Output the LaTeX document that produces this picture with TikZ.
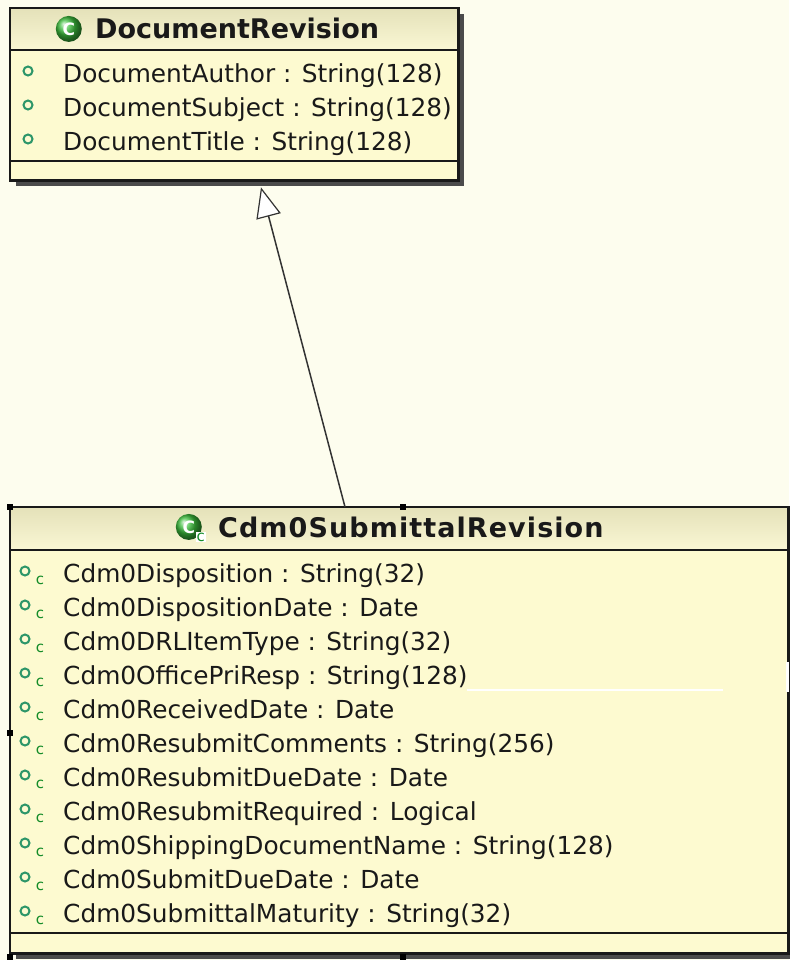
\documentclass[tikz,border=0pt]{standalone}
\usepackage{fontspec}
\setmainfont{DejaVu Sans}
\usepackage{tikz}
\usetikzlibrary{arrows.meta, positioning, calc, shadows}

\definecolor{paper}{RGB}{253,253,238}
\definecolor{classfill}{RGB}{253,250,208}
\definecolor{headtop}{RGB}{228,225,185}
\definecolor{headbot}{RGB}{250,247,212}
\definecolor{edgeblack}{RGB}{25,25,25}
\definecolor{shadowgray}{RGB}{75,75,75}
\definecolor{ink}{RGB}{25,25,25}
\definecolor{ringgreen}{RGB}{45,150,105}
\definecolor{markgreen}{RGB}{20,140,40}
\definecolor{iconball}{RGB}{60,190,60}

\tikzset{
  classbox/.style={fill=classfill, anchor=north west, inner sep=0pt,
    drop shadow={shadow xshift=6pt, shadow yshift=-6pt, fill=shadowgray, opacity=1}},
  classline/.style={draw=edgeblack, line width=2.5pt},
  sepline/.style={draw=edgeblack, line width=1.5pt},
  classname/.style={font=\fontsize{27}{30}\selectfont\bfseries, text=ink, inner sep=0pt, anchor=base west},
  attr/.style={font=\fontsize{24.8}{28}\selectfont, text=ink, anchor=base west, inner sep=0pt,
    text height=19pt, text depth=5pt},
  attrdot/.style={circle, draw=ringgreen, line width=2pt, minimum size=9pt, inner sep=0pt},
  cmark/.style={font=\fontsize{15}{15}\selectfont, text=markgreen, inner sep=0.6pt},
  clsicon/.style={circle, minimum size=26pt, inner sep=0pt, ball color=iconball, text=white,
    font=\fontsize{17}{17}\selectfont\bfseries},
  handle/.style={fill=black, minimum size=6pt, inner sep=0pt},
  genline/.style={draw=black!80, line width=1.5pt, -{Triangle[length=30pt, width=25pt, fill=white, line width=1.2pt]}},
}

\begin{document}
\begin{tikzpicture}[x=1pt, y=-1pt]
  \useasboundingbox[fill=paper] (0,0) rectangle (789,960);

  % superclass
  \node[classbox, minimum width=448pt, minimum height=172pt] (docrev) at (10,8) {};
  \shade[top color=headtop, bottom color=headbot] (docrev.north west) rectangle ($(docrev.north east)+(0,42)$);
  \draw[sepline] ($(docrev.north west)+(0,42)$) -- ($(docrev.north east)+(0,42)$);
  \draw[sepline] ($(docrev.north west)+(0,153)$) -- ($(docrev.north east)+(0,153)$);
  \draw[classline] (docrev.north west) rectangle (docrev.south east);

  \node[classname] (docrevname) at (95,39) {DocumentRevision};
  \node[clsicon, left=13pt of docrevname] (docrevicon) {C};

  \foreach \txt [count=\i from 0] in {DocumentAuthor : String(128), DocumentSubject : String(128), DocumentTitle : String(128)}{
    \node[attr] (docattr\i) at (63,83+34*\i) {\txt};
    \node[attrdot] (docdot\i) at ($(docattr\i.west)+(-35,-5)$) {};
  }

  % subclass
  \node[classbox, minimum width=778pt, minimum height=446pt] (subrev) at (10,507) {};
  \shade[top color=headtop, bottom color=headbot] (subrev.north west) rectangle ($(subrev.north east)+(0,43)$);
  \draw[sepline] ($(subrev.north west)+(0,43)$) -- ($(subrev.north east)+(0,43)$);
  \draw[sepline] ($(subrev.north west)+(0,426)$) -- ($(subrev.north east)+(0,426)$);
  \draw[classline] (subrev.north west) rectangle (subrev.south east);

  \node[classname] (subrevname) at (218,537) {\addfontfeature{LetterSpace=4}Cdm0SubmittalRevision};
  \node[clsicon, left=16pt of subrevname] (subrevicon) {C};
  \node[cmark, fill=white] (subrevmark) at ($(subrevicon.center)+(12,10)$) {c};

  \foreach \txt [count=\i from 0] in {Cdm0Disposition : String(32), Cdm0DispositionDate : Date,
      Cdm0DRLItemType : String(32), Cdm0OfficePriResp : String(128), Cdm0ReceivedDate : Date,
      Cdm0ResubmitComments : String(256), Cdm0ResubmitDueDate : Date, Cdm0ResubmitRequired : Logical,
      Cdm0ShippingDocumentName : String(128), Cdm0SubmitDueDate : Date, Cdm0SubmittalMaturity : String(32)}{
    \node[attr] (subattr\i) at (63,582+34*\i) {\txt};
    \node[attrdot] (subdot\i) at ($(subattr\i.west)+(-38,-4)$) {};
    \node[cmark] (submark\i) at ($(subattr\i.west)+(-23,5)$) {c};
  }

  % stray white streak and selection handles
  \fill[white] (467,689) rectangle (723,691);
  \fill[white] (786,662) rectangle (789,692);
  \foreach \hx/\hy [count=\k] in {10/507, 403/507, 10/733, 10/957, 403/957}
    \node[handle] (hdl\k) at (\hx,\hy) {};

  % generalization
  \coordinate (genfoot) at ($(subrev.north west)+(335,0)$);
  \coordinate (genhead) at ($(docrev.south west)+(251,7)$);
  \draw[genline] (genfoot) -- (genhead);
\end{tikzpicture}
\end{document}
